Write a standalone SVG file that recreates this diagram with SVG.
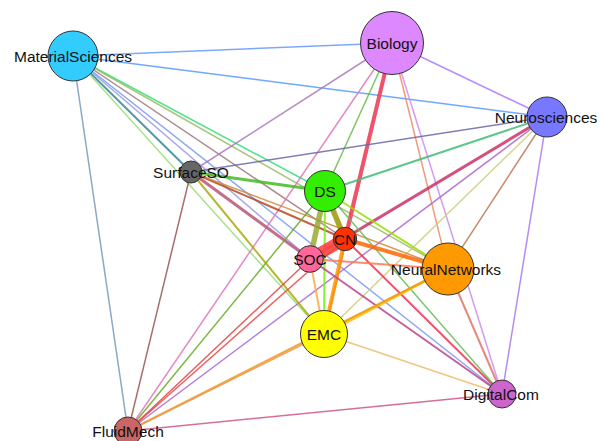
<svg xmlns="http://www.w3.org/2000/svg" width="602" height="441" viewBox="0 0 602 441">
<style>
.e{fill:none;stroke-opacity:0.85;stroke-width:1.5}
.w2{stroke-width:2}
.w3{stroke-width:3}
.w4{stroke-width:4}
.w5{stroke-width:5.5}
.n{stroke:#333;stroke-width:1}
.t{font-family:"Liberation Sans",Arial,Helvetica,sans-serif;font-size:15.5px;fill:#111;text-anchor:middle}
</style>
<rect width="602" height="441" fill="#fff"/>
<g id="connectors">
<line class="e" x1="73" y1="56" x2="392" y2="43" stroke="#6699ff"/>
<line class="e" x1="73" y1="56" x2="547" y2="117" stroke="#5599ff"/>
<line class="e" x1="73" y1="56" x2="128" y2="431" stroke="#7799bb"/>
<line class="e" x1="73" y1="56" x2="325" y2="191" stroke="#33dd77"/>
<line class="e" x1="73" y1="56" x2="448" y2="269" stroke="#99bb66"/>
<line class="e" x1="73" y1="56" x2="345" y2="239" stroke="#997777"/>
<line class="e" x1="73" y1="56" x2="502" y2="394" stroke="#7799ee"/>
<line class="e" x1="73" y1="56" x2="310" y2="259" stroke="#9999dd"/>
<line class="e w2" x1="73" y1="56" x2="191" y2="172" stroke="#338899"/>
<line class="e" x1="73" y1="56" x2="324" y2="334" stroke="#99dd77"/>
<line class="e" x1="392" y1="43" x2="547" y2="117" stroke="#aa77ff"/>
<line class="e" x1="392" y1="43" x2="191" y2="172" stroke="#aa77bb"/>
<line class="e" x1="392" y1="43" x2="128" y2="431" stroke="#dd77bb"/>
<line class="e" x1="392" y1="43" x2="325" y2="191" stroke="#66bb44"/>
<line class="e w4" x1="392" y1="43" x2="345" y2="239" stroke="#ee3355"/>
<line class="e w2" x1="392" y1="43" x2="324" y2="334" stroke="#ee5566"/>
<line class="e" x1="392" y1="43" x2="448" y2="269" stroke="#ee8866"/>
<line class="e" x1="392" y1="43" x2="502" y2="394" stroke="#cc88ee"/>
<line class="e" x1="547" y1="117" x2="191" y2="172" stroke="#6666aa"/>
<line class="e w2" x1="547" y1="117" x2="325" y2="191" stroke="#44bb77"/>
<line class="e w3" x1="547" y1="117" x2="310" y2="259" stroke="#cc3366"/>
<line class="e" x1="547" y1="117" x2="128" y2="431" stroke="#aa66cc"/>
<line class="e" x1="547" y1="117" x2="324" y2="334" stroke="#cccc77"/>
<line class="e" x1="547" y1="117" x2="448" y2="269" stroke="#bb7755"/>
<line class="e" x1="547" y1="117" x2="502" y2="394" stroke="#aa77ee"/>
<line class="e w3" x1="191" y1="172" x2="325" y2="191" stroke="#44bb22"/>
<line class="e w2" x1="191" y1="172" x2="345" y2="239" stroke="#bb4422"/>
<line class="e" x1="191" y1="172" x2="448" y2="269" stroke="#cc8833"/>
<line class="e w3" x1="191" y1="172" x2="310" y2="259" stroke="#bb5577"/>
<line class="e w2" x1="191" y1="172" x2="324" y2="334" stroke="#aaaa11"/>
<line class="e" x1="191" y1="172" x2="128" y2="431" stroke="#995555"/>
<line class="e w5" x1="325" y1="191" x2="345" y2="239" stroke="#999900"/>
<line class="e w5" x1="325" y1="191" x2="310" y2="259" stroke="#99aa33"/>
<line class="e w2" x1="325" y1="191" x2="448" y2="269" stroke="#99dd00"/>
<line class="e w2" x1="325" y1="191" x2="324" y2="334" stroke="#77ee11"/>
<line class="e" x1="325" y1="191" x2="128" y2="431" stroke="#66aa22"/>
<line class="e" x1="325" y1="191" x2="502" y2="394" stroke="#66bb55"/>
<line x1="345" y1="239" x2="310" y2="259" stroke="#ff4444" stroke-opacity="0.9" stroke-width="12"/>
<line class="e w4" x1="345" y1="239" x2="448" y2="269" stroke="#ff6600"/>
<line class="e w4" x1="345" y1="239" x2="324" y2="334" stroke="#ff9900"/>
<line class="e" x1="345" y1="239" x2="128" y2="431" stroke="#ee4444"/>
<line class="e w2" x1="345" y1="239" x2="502" y2="394" stroke="#ee3355"/>
<line class="e w2" x1="310" y1="259" x2="448" y2="269" stroke="#ff7755"/>
<line class="e w2" x1="310" y1="259" x2="324" y2="334" stroke="#ffaa44"/>
<line class="e" x1="310" y1="259" x2="128" y2="431" stroke="#dd4444"/>
<line class="e w2" x1="310" y1="259" x2="502" y2="394" stroke="#bb4488"/>
<line class="e w3" x1="448" y1="269" x2="324" y2="334" stroke="#ffbb00"/>
<line class="e w2" x1="448" y1="269" x2="128" y2="431" stroke="#ee9911"/>
<line class="e w2" x1="448" y1="269" x2="502" y2="394" stroke="#dd7766"/>
<line class="e" x1="324" y1="334" x2="128" y2="431" stroke="#ee9955"/>
<line class="e" x1="324" y1="334" x2="502" y2="394" stroke="#eebb66"/>
<line class="e" x1="128" y1="431" x2="502" y2="394" stroke="#cc5588"/>
</g>
<g id="MaterialSciences"><circle class="n" cx="73" cy="56" r="25" fill="#33ccff"/><text class="t" x="73" y="61.5">MaterialSciences</text></g>
<g id="Biology"><circle class="n" cx="392" cy="43" r="31.5" fill="#dd88ff"/><text class="t" x="392" y="48.5">Biology</text></g>
<g id="Neurosciences"><circle class="n" cx="547" cy="117" r="20" fill="#7777ff"/><text class="t" x="546" y="122.5">Neurosciences</text></g>
<g id="SurfaceSO"><circle class="n" cx="191" cy="172" r="11" fill="#666666"/><text class="t" x="191" y="177.5">SurfaceSO</text></g>
<g id="DS"><circle class="n" cx="325" cy="191" r="20.5" fill="#33ee00"/><text class="t" x="325" y="196.5">DS</text></g>
<g id="CN"><circle class="n" cx="345" cy="239" r="11.7" fill="#ff3300"/><text class="t" x="345" y="244.5">CN</text></g>
<g id="SOC"><circle class="n" cx="310" cy="259" r="13.3" fill="#ff6699"/><text class="t" x="310" y="264.5">SOC</text></g>
<g id="NeuralNetworks"><circle class="n" cx="448" cy="269" r="26" fill="#ff9900"/><text class="t" x="446" y="274.5">NeuralNetworks</text></g>
<g id="EMC"><circle class="n" cx="324" cy="334" r="23.5" fill="#ffff00"/><text class="t" x="324" y="339.5">EMC</text></g>
<g id="DigitalCom"><circle class="n" cx="502" cy="394" r="14" fill="#cc66cc"/><text class="t" x="501" y="399.5">DigitalCom</text></g>
<g id="FluidMech"><circle class="n" cx="128" cy="431" r="14" fill="#cc6666"/><text class="t" x="128" y="436.5">FluidMech</text></g>
</svg>
